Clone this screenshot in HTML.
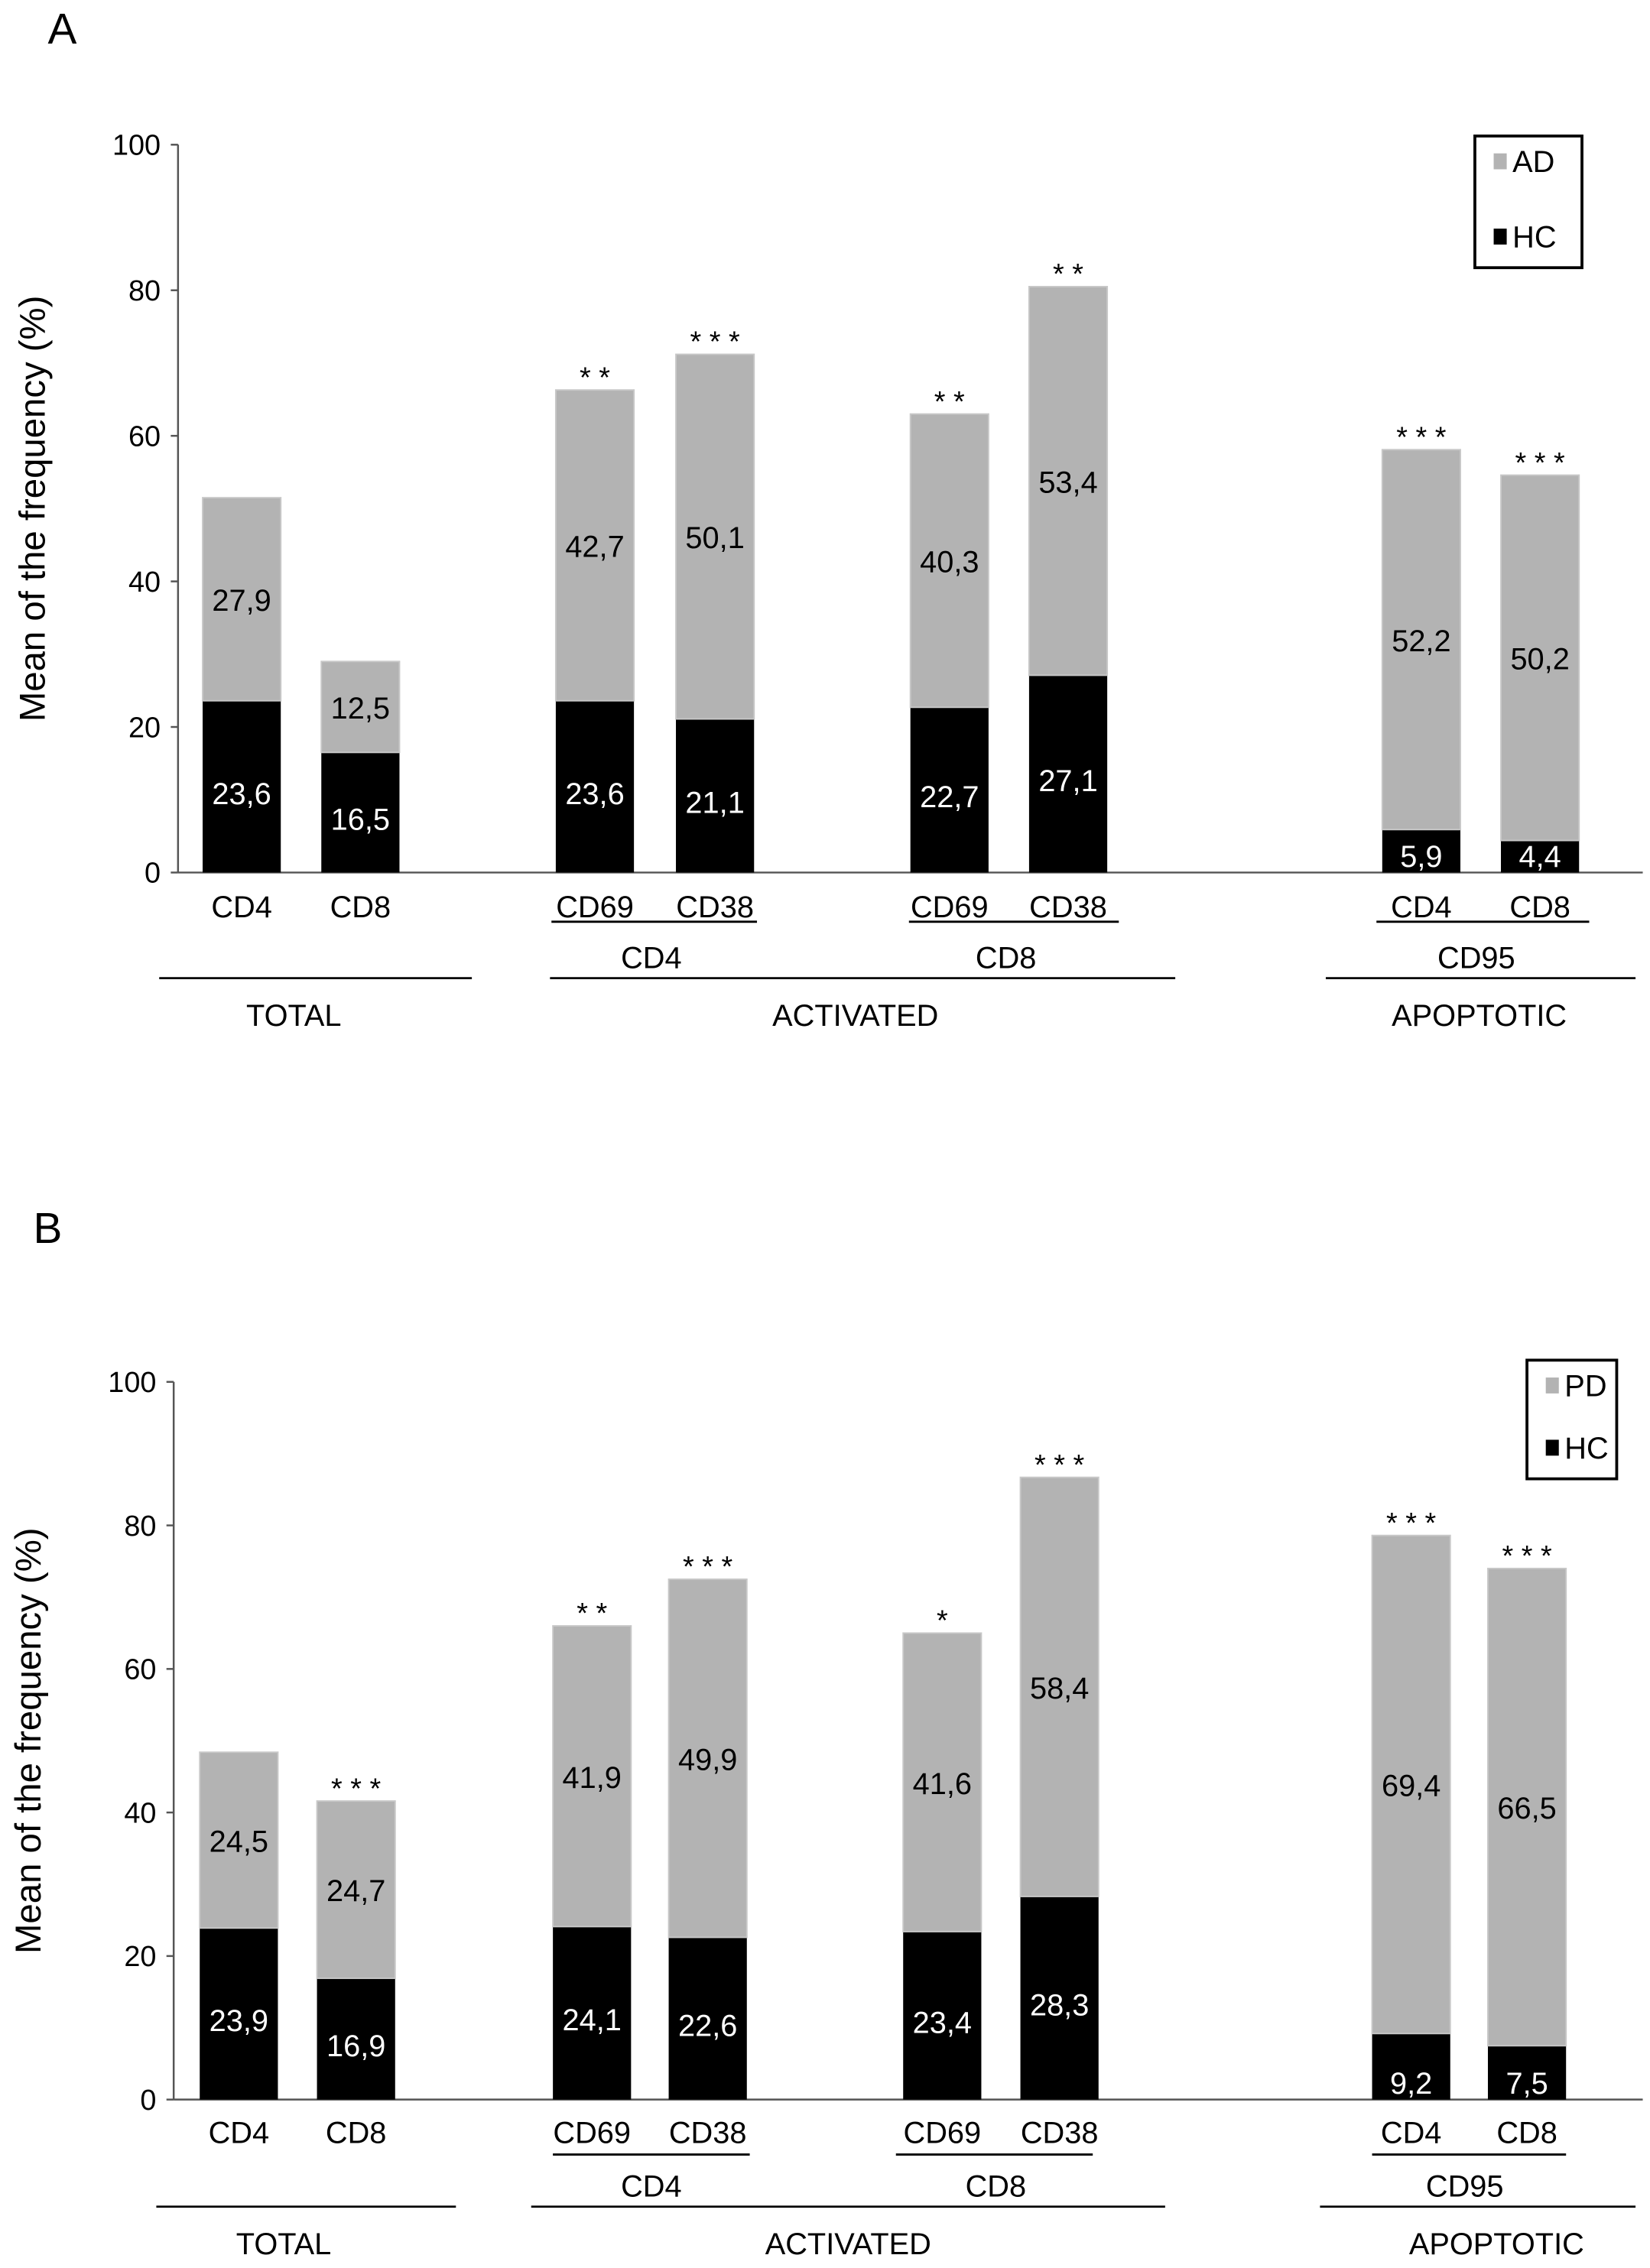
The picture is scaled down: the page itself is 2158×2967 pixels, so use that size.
<!DOCTYPE html>
<html><head><meta charset="utf-8"><style>
html,body{margin:0;padding:0;background:#fff}
svg{display:block}
text{font-family:"Liberation Sans Narrow","Liberation Sans",sans-serif}
</style></head><body>
<svg id="chart" width="2158" height="2967" viewBox="0 0 1140 1567.4" preserveAspectRatio="none" xmlns="http://www.w3.org/2000/svg"></svg>
<script>
const categories = ["CD4","CD8","CD69","CD38","CD69","CD38","CD4","CD8"];
const tickLabels = ["0","20","40","60","80","100"];
const tickValues = [0,20,40,60,80,100];
const hcA = [23.6,16.5,23.6,21.1,22.7,27.1,5.9,4.4];
const adA = [27.9,12.5,42.7,50.1,40.3,53.4,52.2,50.2];
const starsA = ["","","* *","* * *","* *","* *","* * *","* * *"];
const hcB = [23.9,16.9,24.1,22.6,23.4,28.3,9.2,7.5];
const pdB = [24.5,24.7,41.9,49.9,41.6,58.4,69.4,66.5];
const starsB = ["","* * *","* *","* * *","*","* * *","* * *","* * *"];
const hcLabelsA = ["23,6","16,5","23,6","21,1","22,7","27,1","5,9","4,4"];
const adLabelsA = ["27,9","12,5","42,7","50,1","40,3","53,4","52,2","50,2"];
const hcLabelsB = ["23,9","16,9","24,1","22,6","23,4","28,3","9,2","7,5"];
const pdLabelsB = ["24,5","24,7","41,9","49,9","41,6","58,4","69,4","66,5"];

const NS="http://www.w3.org/2000/svg";
const svg=document.getElementById('chart');
function mk(tag,attrs,parent,txt){const e=document.createElementNS(NS,tag);for(const k in attrs)e.setAttribute(k,attrs[k]);if(txt!==undefined)e.textContent=txt;(parent||svg).appendChild(e);return e;}

function panel(cfg){
  const g=mk('g',{});
  
  
  const y=v=>cfg.y0-(cfg.y0-cfg.y100)*v/100;
  const letter=mk('text',{x:cfg.letterX,y:cfg.letterY,'font-size':30,'font-family':'Liberation Sans'},g,cfg.letter);
  
  
  const yt=mk('text',{x:0,y:0,'font-size':25,'text-anchor':'middle','font-family':'Liberation Sans',transform:`translate(${cfg.axisX-92},${(cfg.y0+cfg.y100)/2}) rotate(-90)`},g,'Mean of the frequency (%)');
  
  
  const ax=mk('line',{x1:cfg.axisX,y1:cfg.y100,x2:cfg.axisX,y2:cfg.y0,stroke:'#555','stroke-width':1.3},g);
  
  
  const bl=mk('line',{x1:cfg.axisX,y1:cfg.y0,x2:1135,y2:cfg.y0,stroke:'#555','stroke-width':1.3},g);
  
  
  tickValues.forEach((t,i)=>{
    mk('line',{x1:cfg.axisX-5,x2:cfg.axisX,y1:y(t),y2:y(t),stroke:'#555','stroke-width':1.3},g);
    const tl=mk('text',{x:cfg.axisX-12,y:y(t)+7,'font-size':20,'text-anchor':'end'},g,tickLabels[i]);
    
    
  });
  const w=54;
  categories.forEach((c,i)=>{
    const x=cfg.barX[i];
    const h=cfg.hc[i], s=cfg.dis[i];
    const rb=mk('rect',{x:x,y:y(h),width:w,height:y(0)-y(h),fill:'#000'},g);
    
    
    const rg=mk('rect',{x:x,y:y(h+s),width:w,height:y(h)-y(h+s),fill:'#b3b3b3',stroke:'#c8c8c8','stroke-width':1},g);
    
    
    const hy = h<12 ? y(0)-4 : (y(h)+y(0))/2+12;
    const ht=mk('text',{x:x+w/2,y:hy,'font-size':21,'text-anchor':'middle',fill:'#fff'},g,cfg.hcL[i]);
    
    
    const st=mk('text',{x:x+w/2,y:(y(h)+y(h+s))/2+8,'font-size':21,'text-anchor':'middle',fill:'#000'},g,cfg.disL[i]);
    
    
    if(cfg.stars[i]){
      const sr=mk('text',{x:x+w/2,y:y(h+s)-2,'font-size':20,'text-anchor':'middle'},g,cfg.stars[i]);
      
      
    }
    const cl=mk('text',{x:x+w/2,y:cfg.catY,'font-size':21,'text-anchor':'middle'},g,c);
    
    
  });
  cfg.subLines.forEach(l=>mk('line',{x1:l[0],x2:l[1],y1:cfg.subLineY,y2:cfg.subLineY,stroke:'#000','stroke-width':1.5},g));
  cfg.subLabels.forEach(l=>{const t=mk('text',{x:l[0],y:cfg.subY,'font-size':21,'text-anchor':'middle'},g,l[1]);
    
    });
  cfg.grpLines.forEach(l=>mk('line',{x1:l[0],x2:l[1],y1:cfg.grpLineY,y2:cfg.grpLineY,stroke:'#000','stroke-width':1.5},g));
  cfg.grpLabels.forEach(l=>{const t=mk('text',{x:l[0],y:cfg.grpY,'font-size':21,'text-anchor':'middle'},g,l[1]);
    
    });
  const L=cfg.legend;
  const lg=mk('g',{},g);
  
  
  mk('rect',{x:L[0],y:L[1],width:L[2],height:L[3],fill:'#fff',stroke:'#000','stroke-width':2},lg);
  mk('rect',{x:L[0]+13,y:L[1]+12,width:9,height:11,fill:'#b3b3b3'},lg);
  mk('text',{x:L[0]+26,y:L[1]+25,'font-size':21,'font-family':'Liberation Sans'},lg,cfg.disName);
  mk('rect',{x:L[0]+13,y:L[1]+L[3]-27,width:9,height:11,fill:'#000'},lg);
  mk('text',{x:L[0]+26,y:L[1]+L[3]-14,'font-size':21,'font-family':'Liberation Sans'},lg,'HC');
}

panel({name:'panel-a',letter:'A',letterX:33,letterY:30,axisX:123,y100:100,y0:603,
  barX:[140,222,384,467,629,711,955,1037],hc:hcA,dis:adA,hcL:hcLabelsA,disL:adLabelsA,stars:starsA,
  catY:634,subLineY:637,subLines:[[381,523],[628,773],[951,1098]],subY:669,
  subLabels:[[450,'CD4'],[695,'CD8'],[1020,'CD95']],grpLineY:676,grpLines:[[110,326],[380,812],[916,1130]],
  grpY:709,grpLabels:[[203,'TOTAL'],[591,'ACTIVATED'],[1022,'APOPTOTIC']],legend:[1019,94,74,91],disName:'AD'});
panel({name:'panel-b',letter:'B',letterX:23,letterY:859,axisX:120,y100:955,y0:1451,
  barX:[138,219,382,462,624,705,948,1028],hc:hcB,dis:pdB,hcL:hcLabelsB,disL:pdLabelsB,stars:starsB,
  catY:1481,subLineY:1489,subLines:[[382,518],[619,755],[948,1082]],subY:1518,
  subLabels:[[450,'CD4'],[688,'CD8'],[1012,'CD95']],grpLineY:1525,grpLines:[[108,315],[367,805],[912,1130]],
  grpY:1558,grpLabels:[[196,'TOTAL'],[586,'ACTIVATED'],[1034,'APOPTOTIC']],legend:[1055,940,62,82],disName:'PD'});
</script>
</body></html>
